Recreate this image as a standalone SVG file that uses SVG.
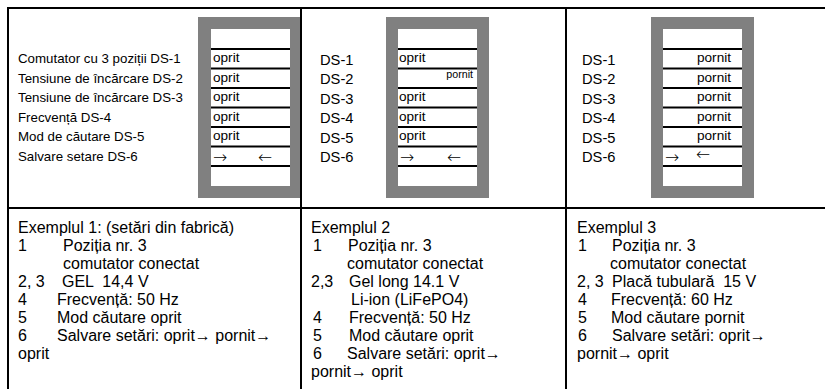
<svg xmlns="http://www.w3.org/2000/svg" width="825" height="389" viewBox="0 0 825 389">
<style>
text{font-family:"Liberation Sans",Arial,sans-serif;fill:#000;white-space:pre}
.lbl{font-size:13.3px}
.ds{font-size:14.7px}
.cell{font-size:13.6px}
.arr{font-family:"DejaVu Sans",sans-serif;font-size:17px;font-weight:200}
.sm{font-size:10.7px}
.body{font-size:16px}
.frame{fill:#808080}
.win{fill:#fff}
.row{stroke:#000;stroke-width:2}
.grid{stroke:#000;stroke-width:2;fill:none}
</style>
<rect width="825" height="389" fill="#fff"/>
<g id="table">
<line class="grid" x1="8" y1="7" x2="8" y2="389"/>
<line class="grid" x1="7" y1="8" x2="825" y2="8"/>
<line class="grid" x1="301" y1="8" x2="301" y2="389"/>
<line class="grid" x1="566" y1="8" x2="566" y2="389"/>
<line class="grid" x1="8" y1="208" x2="825" y2="208"/>
</g>
<g id="panel1">
<rect class="frame" x="198" y="17" width="102" height="181"/>
<rect class="win" x="211" y="29" width="79" height="157"/>
<g class="row">
<line x1="211" y1="49" x2="290" y2="49"/><line x1="211" y1="68.5" x2="290" y2="68.5"/><line x1="211" y1="88" x2="290" y2="88"/><line x1="211" y1="107.5" x2="290" y2="107.5"/><line x1="211" y1="127" x2="290" y2="127"/><line x1="211" y1="146.5" x2="290" y2="146.5"/><line x1="211" y1="166" x2="290" y2="166"/>
</g>
<text class="lbl" x="18" y="63">Comutator cu 3 poziții DS-1</text>
<text class="lbl" x="18" y="82.5">Tensiune de încărcare DS-2</text>
<text class="lbl" x="18" y="102">Tensiune de încărcare DS-3</text>
<text class="lbl" x="18" y="121.5">Frecvență DS-4</text>
<text class="lbl" x="18" y="141">Mod de căutare DS-5</text>
<text class="lbl" x="18" y="160.5">Salvare setare DS-6</text>
<text class="cell" x="213" y="62">oprit</text>
<text class="cell" x="213" y="81.5">oprit</text>
<text class="cell" x="213" y="101">oprit</text>
<text class="cell" x="213" y="120.5">oprit</text>
<text class="cell" x="213" y="140">oprit</text>
<text class="arr" x="213" y="163">→</text>
<text class="arr" x="258" y="163">←</text>
</g>
<g id="panel2">
<rect class="frame" x="386" y="17" width="103" height="181"/>
<rect class="win" x="398" y="29" width="79" height="157"/>
<g class="row">
<line x1="398" y1="49" x2="477" y2="49"/><line x1="398" y1="68.5" x2="477" y2="68.5"/><line x1="398" y1="88" x2="477" y2="88"/><line x1="398" y1="107.5" x2="477" y2="107.5"/><line x1="398" y1="127" x2="477" y2="127"/><line x1="398" y1="146.5" x2="477" y2="146.5"/><line x1="398" y1="166" x2="477" y2="166"/>
</g>
<text class="ds" x="320" y="64.5">DS-1</text>
<text class="ds" x="320" y="84">DS-2</text>
<text class="ds" x="320" y="103.5">DS-3</text>
<text class="ds" x="320" y="123">DS-4</text>
<text class="ds" x="320" y="142.5">DS-5</text>
<text class="ds" x="320" y="162">DS-6</text>
<text class="cell" x="399" y="62">oprit</text>
<text class="sm" x="473" y="78" text-anchor="end">pornit</text>
<text class="cell" x="399" y="101">oprit</text>
<text class="cell" x="399" y="120.5">oprit</text>
<text class="cell" x="399" y="140">oprit</text>
<text class="arr" x="400" y="163">→</text>
<text class="arr" x="447" y="163">←</text>
</g>
<g id="panel3">
<rect class="frame" x="651" y="17" width="103" height="181"/>
<rect class="win" x="663" y="29" width="79" height="157"/>
<g class="row">
<line x1="663" y1="49" x2="742" y2="49"/><line x1="663" y1="68.5" x2="742" y2="68.5"/><line x1="663" y1="88" x2="742" y2="88"/><line x1="663" y1="107.5" x2="742" y2="107.5"/><line x1="663" y1="127" x2="742" y2="127"/><line x1="663" y1="146.5" x2="742" y2="146.5"/><line x1="663" y1="166" x2="742" y2="166"/>
</g>
<text class="ds" x="582" y="64.5">DS-1</text>
<text class="ds" x="582" y="84">DS-2</text>
<text class="ds" x="582" y="103.5">DS-3</text>
<text class="ds" x="582" y="123">DS-4</text>
<text class="ds" x="582" y="142.5">DS-5</text>
<text class="ds" x="582" y="162">DS-6</text>
<text class="cell" x="731" y="62" text-anchor="end">pornit</text>
<text class="cell" x="731" y="81.5" text-anchor="end">pornit</text>
<text class="cell" x="731" y="101" text-anchor="end">pornit</text>
<text class="cell" x="731" y="120.5" text-anchor="end">pornit</text>
<text class="cell" x="731" y="140" text-anchor="end">pornit</text>
<text class="arr" x="665" y="163">→</text>
<text class="arr" x="696" y="160">←</text>
</g>
<g id="example1">
<text class="body" x="18" y="232.5">Exemplul 1: (setări din fabrică)</text>
<text class="body" x="18" y="250.5">1</text><text class="body" x="63" y="250.5">Poziția nr. 3</text>
<text class="body" x="63" y="268.5">comutator conectat</text>
<text class="body" x="18" y="286.5">2, 3</text><text class="body" x="62" y="286.5">GEL  14,4 V</text>
<text class="body" x="18" y="304.5">4</text><text class="body" x="57" y="304.5">Frecvență: 50 Hz</text>
<text class="body" x="18" y="322.5">5</text><text class="body" x="57" y="322.5">Mod căutare oprit</text>
<text class="body" x="18" y="340.5">6</text><text class="body" x="57" y="340.5">Salvare setări: oprit→ pornit→</text>
<text class="body" x="18" y="358.5">oprit</text>
</g>
<g id="example2">
<text class="body" x="311" y="232.5">Exemplul 2</text>
<text class="body" x="313" y="250.5">1</text><text class="body" x="348" y="250.5">Poziția nr. 3</text>
<text class="body" x="347" y="268.5">comutator conectat</text>
<text class="body" x="311" y="286.5">2,3</text><text class="body" x="349" y="286.5">Gel long 14.1 V</text>
<text class="body" x="351" y="304.5">Li-ion (LiFePO4)</text>
<text class="body" x="313" y="322.5">4</text><text class="body" x="349" y="322.5">Frecvență: 50 Hz</text>
<text class="body" x="313" y="340.5">5</text><text class="body" x="349" y="340.5">Mod căutare oprit</text>
<text class="body" x="313" y="358.5">6</text><text class="body" x="347" y="358.5">Salvare setări: oprit→</text>
<text class="body" x="311" y="376.5">pornit→ oprit</text>
</g>
<g id="example3">
<text class="body" x="577" y="232.5">Exemplul 3</text>
<text class="body" x="578" y="250.5">1</text><text class="body" x="612" y="250.5">Poziția nr. 3</text>
<text class="body" x="610" y="268.5">comutator conectat</text>
<text class="body" x="577" y="286.5">2, 3</text><text class="body" x="612" y="286.5">Placă tubulară  15 V</text>
<text class="body" x="578" y="304.5">4</text><text class="body" x="611" y="304.5">Frecvență: 60 Hz</text>
<text class="body" x="578" y="322.5">5</text><text class="body" x="611" y="322.5">Mod căutare pornit</text>
<text class="body" x="578" y="340.5">6</text><text class="body" x="612" y="340.5">Salvare setări: oprit→</text>
<text class="body" x="577" y="358.5">pornit→ oprit</text>
</g>
<g id="connectors"/>
</svg>
